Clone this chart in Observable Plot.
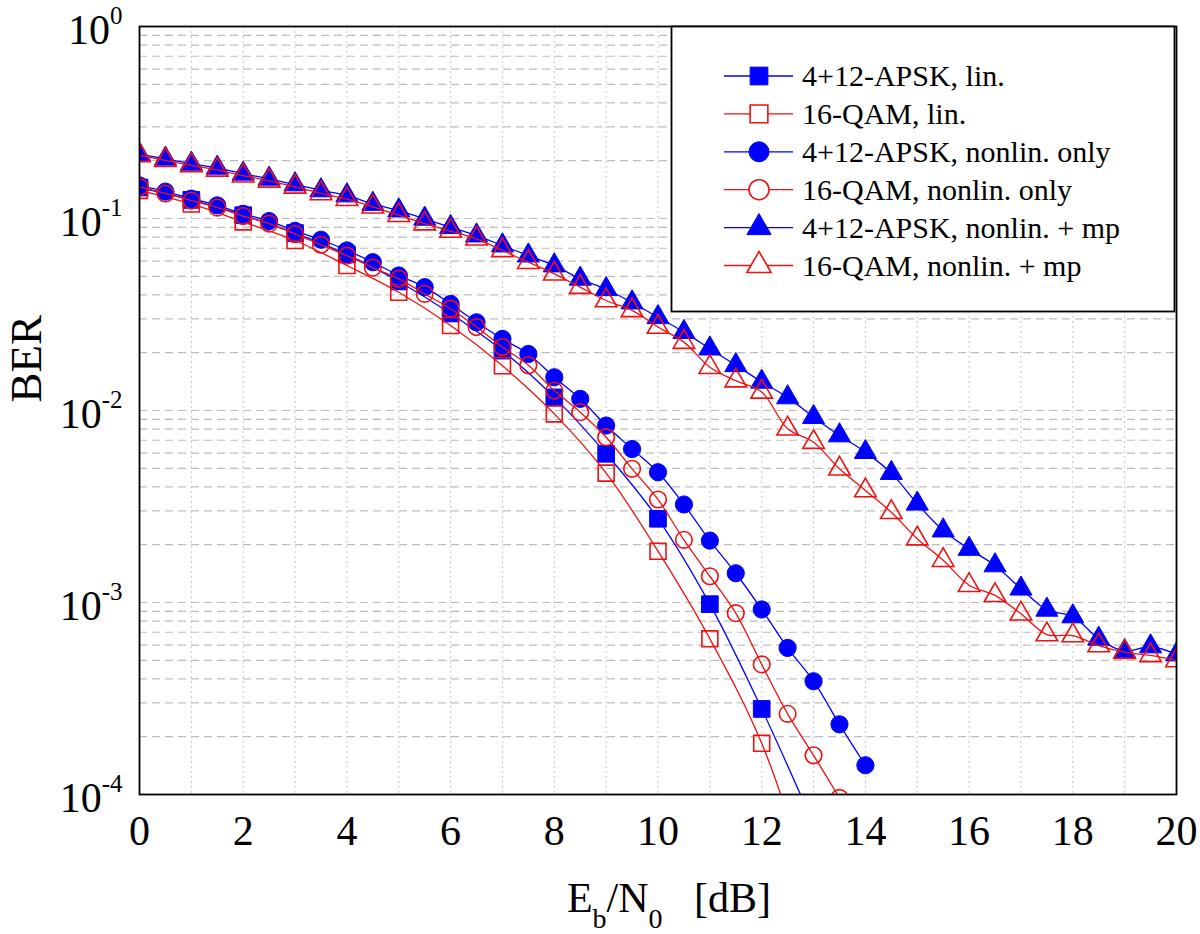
<!DOCTYPE html>
<html>
<head>
<meta charset="utf-8">
<script src="https://cdn.jsdelivr.net/npm/d3@7"></script>
<script src="https://cdn.jsdelivr.net/npm/@observablehq/plot@0.6"></script>
<style>
  html, body { margin: 0; padding: 0; background: #fff; }
  #wrap { position: relative; width: 1200px; height: 934px; font-family: "Liberation Serif", "Times New Roman", serif; }
  #wrap svg { display: block; }
</style>
</head>
<body>
<div id="wrap"></div>
<script>
// ---------------- data ----------------
const seriesNames = [
  "4+12-APSK, lin.",
  "16-QAM, lin.",
  "4+12-APSK, nonlin. only",
  "16-QAM, nonlin. only",
  "4+12-APSK, nonlin. + mp",
  "16-QAM, nonlin. + mp"
];

// linear channel: markers every 1 dB
const ebn0Lin = [0,1,2,3,4,5,6,7,8,9,10,11,12,13];
const berApskLin = [0.145,0.125,0.104,0.084,0.065,0.047,0.032,0.0205,0.0117,0.00595,0.00273,0.00098,0.000279,0.00007];
const berQamLin  = [0.140,0.119,0.096,0.0768,0.0569,0.0413,0.0277,0.0171,0.0096,0.00472,0.00185,0.000647,0.000185,0.00003];

// nonlinear only
const ebn0NonlinApsk = [0,0.5,1,1.5,2,2.5,3,3.5,4,4.5,5,5.5,6,6.5,7,7.5,8,8.5,9,9.5,10,10.5,11,11.5,12,12.5,13,13.5,14];
const berApskNonlin = [0.1486,0.138,0.127,0.117,0.1058,0.097,0.0862,0.0775,0.0682,0.0592,0.0505,0.0439,0.0359,0.0288,0.0236,0.0197,0.0149,0.0115,0.00835,0.0063,0.00477,0.00324,0.0021,0.00142,0.00092,0.00058,0.000389,0.000232,0.000142];
const ebn0NonlinQam = [0,0.5,1,1.5,2,2.5,3,3.5,4,4.5,5,5.5,6,6.5,7,7.5,8,8.5,9,9.5,10,10.5,11,11.5,12,12.5,13,13.5];
const berQamNonlin = [0.146,0.135,0.124,0.114,0.103,0.094,0.083,0.073,0.064,0.0555,0.0485,0.0405,0.0339,0.0272,0.0214,0.0172,0.0127,0.0098,0.00726,0.00497,0.00344,0.00212,0.00137,0.00088,0.000476,0.000263,0.00016,0.000096];

// nonlinear + multipath
const ebn0Mp = [0,0.5,1,1.5,2,2.5,3,3.5,4,4.5,5,5.5,6,6.5,7,7.5,8,8.5,9,9.5,10,10.5,11,11.5,12,12.5,13,13.5,14,14.5,15,15.5,16,16.5,17,17.5,18,18.5,19,19.5,20];
const berApskMp = [0.2155,0.2047,0.1927,0.1837,0.171,0.161,0.1504,0.140,0.1318,0.119,0.110,0.0996,0.0901,0.0815,0.0723,0.0641,0.0569,0.0485,0.0428,0.0365,0.0306,0.0256,0.0210,0.0172,0.0141,0.0117,0.00923,0.00741,0.00607,0.00472,0.00327,0.00237,0.00190,0.00156,0.00118,0.000916,0.000846,0.000647,0.000557,0.00059,0.000536];
const berQamMp  = [0.213,0.201,0.189,0.179,0.167,0.157,0.146,0.135,0.126,0.115,0.104,0.094,0.086,0.0784,0.0682,0.0592,0.0515,0.0439,0.0374,0.0332,0.0272,0.0227,0.0168,0.0143,0.0125,0.00803,0.00684,0.00497,0.00383,0.00295,0.00215,0.00166,0.00123,0.00109,0.000873,0.000681,0.000673,0.000597,0.000551,0.00053,0.000499];

const xTicks = [0,2,4,6,8,10,12,14,16,18,20];
const xGrid = [0,1,2,3,4,5,6,7,8,9,10,11,12,13,14,15,16,17,18,19,20];
const yTicks = [1,0.1,0.01,0.001,0.0001];
const yMinorFactors = [1,2,3,4,5,6,7,8,9];
const xLabelParts = [["E", false], ["b", true], ["/N", false], ["0", true], ["   [dB]", false]];
const xLabel = xLabelParts.map(p => p[0]).join("");
const yLabel = "BER";

// ---------------- styling ----------------
const BLUE = "#0000ff";
const RED = "#ee1111";
const FONT = "'Liberation Serif', 'Times New Roman', serif";

const series = [
  {name: seriesNames[0], xs: ebn0Lin, ys: berApskLin, color: BLUE, symbol: "square", filled: true, r: 9.4},
  {name: seriesNames[1], xs: ebn0Lin, ys: berQamLin, color: RED, symbol: "square", filled: false, r: 9.0},
  {name: seriesNames[2], xs: ebn0NonlinApsk, ys: berApskNonlin, color: BLUE, symbol: "circle", filled: true, r: 8.6},
  {name: seriesNames[3], xs: ebn0NonlinQam, ys: berQamNonlin, color: RED, symbol: "circle", filled: false, r: 8.3},
  {name: seriesNames[4], xs: ebn0Mp, ys: berApskMp, color: BLUE, symbol: "triangle", filled: true, r: 8.2},
  {name: seriesNames[5], xs: ebn0Mp, ys: berQamMp, color: RED, symbol: "triangle", filled: false, r: 8.0}
];
const rowsOf = s => s.xs.map((x, i) => ({x, y: s.ys[i]}));

const yGrid = yTicks.slice(1).flatMap(d => yMinorFactors.map(k => k * d));

const plot = Plot.plot({
  width: 1200,
  height: 934,
  marginLeft: 139,
  marginRight: 24,
  marginTop: 26,
  marginBottom: 140,
  style: {fontFamily: FONT, fontSize: "42px", background: "#fff", color: "#000"},
  x: {domain: [0, 20]},
  y: {type: "log", domain: [1e-4, 1]},
  marks: [
    Plot.gridX(xGrid, {stroke: "#c8c8c8", strokeOpacity: 1, strokeWidth: 1, strokeDasharray: "2,3"}),
    Plot.gridY(yGrid, {stroke: "#bdbdbd", strokeOpacity: 1, strokeWidth: 1.2, strokeDasharray: "8,5"}),
    ...series.flatMap(s => [
      Plot.line(rowsOf(s), {x: "x", y: "y", stroke: s.color, strokeWidth: 1.3, curve: "catmull-rom", clip: true}),
      Plot.dot(rowsOf(s), {x: "x", y: "y", symbol: s.symbol, r: s.r,
        fill: s.filled ? s.color : "none", stroke: s.color,
        strokeWidth: s.filled ? 1 : 1.6, clip: true})
    ]),
    Plot.frame({stroke: "#000", strokeWidth: 1.8}),
    Plot.axisX(xTicks, {tickSize: 0, tickPadding: 21, fontSize: 42, label: null, tickFormat: d => String(d)}),
    Plot.axisY(yTicks, {tickSize: 0, tickPadding: 17, fontSize: 42, label: null,
      tickFormat: d => "10^" + Math.round(Math.log10(d))}),
    Plot.text([xLabel], {frameAnchor: "bottom", dx: 11, dy: 117, fontSize: 42, lineAnchor: "bottom"}),
    Plot.text([yLabel], {frameAnchor: "left", rotate: -90, dx: -113, dy: -8, fontSize: 45})
  ]
});

document.getElementById("wrap").appendChild(plot);
const svg = d3.select(plot);

// y tick labels as 10 with superscript exponent
svg.selectAll("text").filter(function () { return /^10\^-?\d+$/.test(this.textContent); }).each(function () {
  const t = d3.select(this);
  const parts = t.text().split("^");
  t.text(null).attr("y", 17);
  t.append("tspan").text(parts[0]);
  t.append("tspan").attr("font-size", 25).attr("dy", -20).text(parts[1]);
});

// x label with subscripts
svg.selectAll("text").filter(function () { return this.textContent === xLabel; }).each(function () {
  const t = d3.select(this);
  t.text(null).attr("y", null).style("white-space", "pre").attr("xml:space", "preserve");
  let lowered = false;
  xLabelParts.forEach(([s, sub]) => {
    const ts = t.append("tspan").text(s);
    if (sub) { ts.attr("font-size", 28); if (!lowered) ts.attr("dy", 16); lowered = true; }
    else if (lowered) { ts.attr("dy", -16); lowered = false; }
  });
});

// ---------------- legend (HTML overlay) ----------------
const leg = d3.select("#wrap").append("svg")
  .attr("width", 506).attr("height", 288)
  .style("position", "absolute").style("left", "670px").style("top", "25px")
  .style("font-family", FONT);
leg.append("rect").attr("x", 1.5).attr("y", 1.5).attr("width", 503).attr("height", 285)
  .attr("fill", "#fff").attr("stroke", "#000").attr("stroke-width", 1.8);
const symMap = {square: d3.symbolSquare, circle: d3.symbolCircle, triangle: d3.symbolTriangle};
series.forEach((s, i) => {
  const cy = 51 + i * 37.9;
  const g = leg.append("g");
  g.append("line").attr("x1", 54).attr("x2", 123).attr("y1", cy).attr("y2", cy)
    .attr("stroke", s.color).attr("stroke-width", 1.3);
  const rr = s.symbol === "triangle" ? 9 : 10;
  g.append("path").attr("d", d3.symbol(symMap[s.symbol], Math.PI * rr * rr)())
    .attr("transform", `translate(89,${cy})`)
    .attr("fill", s.filled ? s.color : "#fff").attr("stroke", s.color)
    .attr("stroke-width", s.filled ? 1 : 1.6);
  g.append("text").attr("x", 132).attr("y", cy + 10).attr("font-size", 30).attr("fill", "#000").text(s.name);
});
</script>
</body>
</html>
